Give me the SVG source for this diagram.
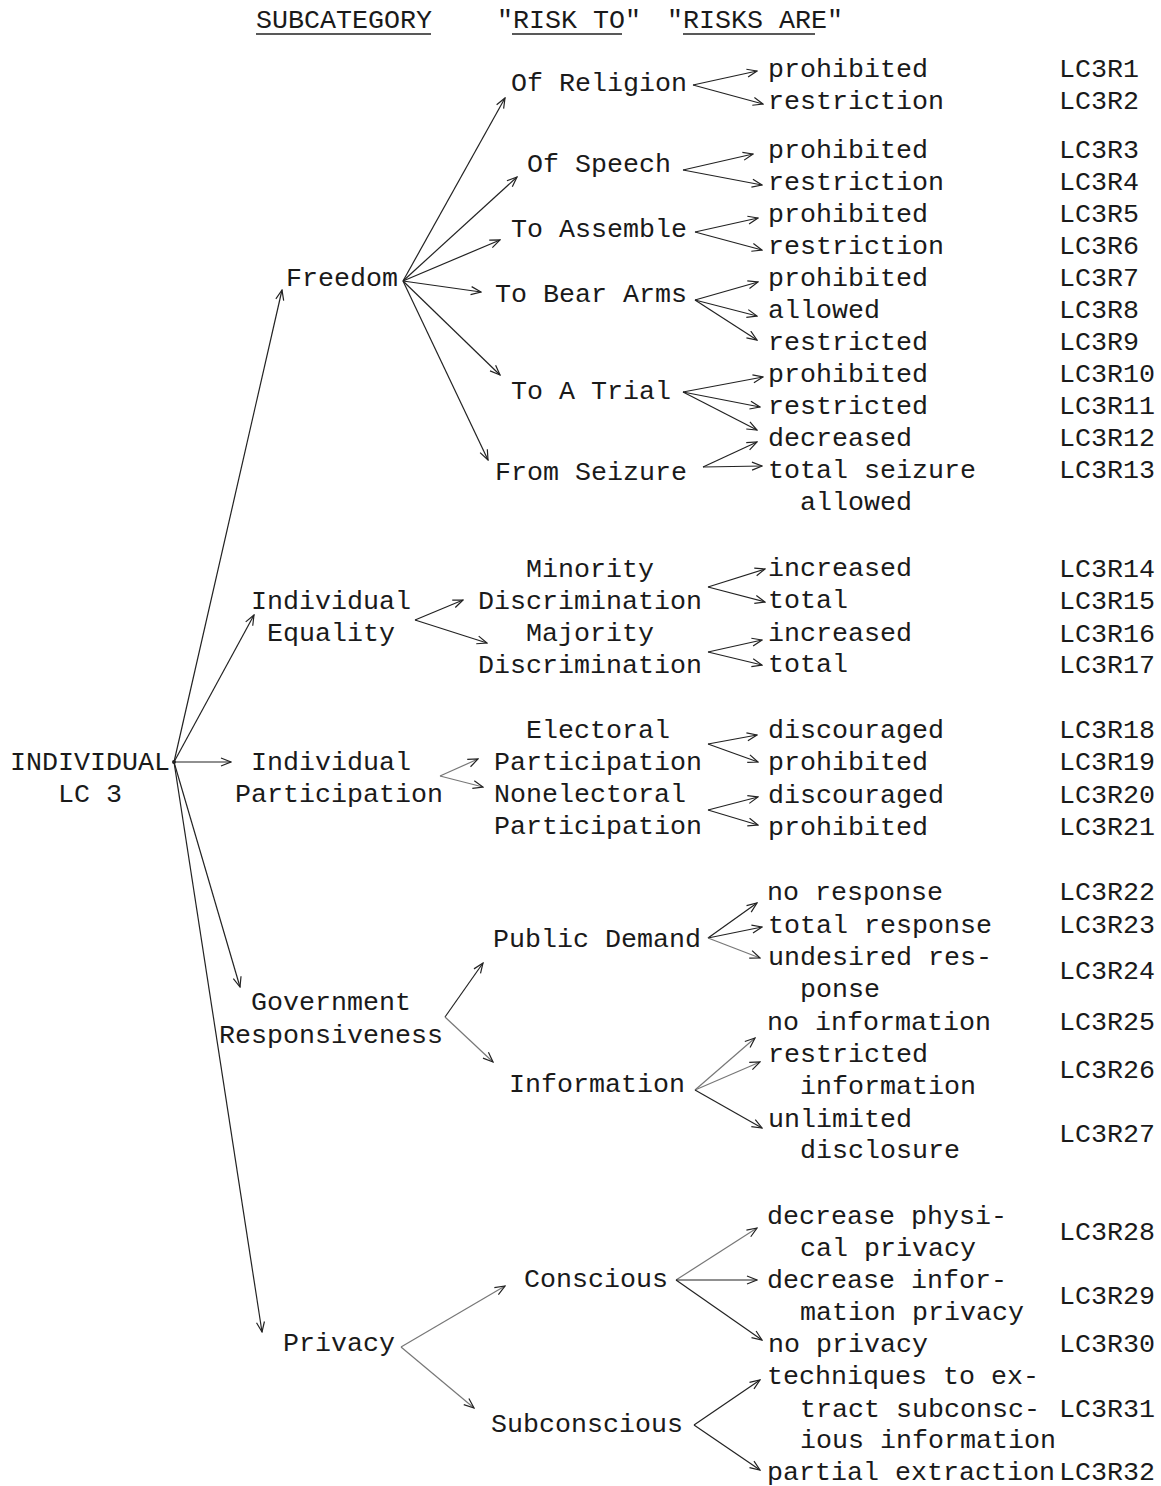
<svg xmlns="http://www.w3.org/2000/svg" width="1161" height="1486" viewBox="0 0 1161 1486">
  <style>
    text { font-family: "Liberation Mono", "DejaVu Sans Mono", monospace; font-size: 26.66px; fill: #1a1a1a; }
    .edge { stroke: #222; stroke-width: 1.2; fill: none; marker-end: url(#vhead); }
    .faint { stroke: #777; }
    .rule { stroke: #222; stroke-width: 1.6; }
  </style>
  <defs>
    <marker id="vhead" markerUnits="userSpaceOnUse" markerWidth="12" markerHeight="10" viewBox="0 0 12 10" refX="11" refY="5" orient="auto">
      <path d="M1,1 L11,5 L1,9" fill="none" stroke="#222" stroke-width="1.2"/>
    </marker>
  </defs>
  <rect width="1161" height="1486" fill="#ffffff"/>

  <!-- column headings -->
  <g id="headings">
    <text x="256" y="28">SUBCATEGORY</text>
    <line class="rule" x1="256" y1="34" x2="431" y2="34"/>
    <text x="497" y="28">"RISK TO"</text>
    <line class="rule" x1="512" y1="34" x2="622" y2="34"/>
    <text x="667" y="28">"RISKS ARE"</text>
    <line class="rule" x1="683" y1="34" x2="815" y2="34"/>
  </g>

  <!-- connectors -->
  <g id="connectors">
    <!-- root -->
    <circle cx="174" cy="762" r="2" fill="#222"/>
    <line class="edge" x1="174" y1="762" x2="282" y2="290"/>
    <line class="edge" x1="174" y1="762" x2="254" y2="615"/>
    <line class="edge" x1="174" y1="762" x2="231" y2="762"/>
    <line class="edge" x1="174" y1="762" x2="240" y2="987"/>
    <line class="edge" x1="174" y1="762" x2="262" y2="1332"/>
    <!-- freedom -->
    <line class="edge" x1="403" y1="281" x2="505" y2="98"/>
    <line class="edge" x1="403" y1="281" x2="517" y2="177"/>
    <line class="edge" x1="403" y1="281" x2="500" y2="240"/>
    <line class="edge" x1="403" y1="281" x2="481" y2="292"/>
    <line class="edge" x1="403" y1="281" x2="500" y2="375"/>
    <line class="edge" x1="403" y1="281" x2="488" y2="460"/>
    <line class="edge" x1="693" y1="85" x2="757" y2="71"/>
    <line class="edge" x1="693" y1="85" x2="763" y2="104"/>
    <line class="edge" x1="683" y1="170" x2="753" y2="154"/>
    <line class="edge" x1="683" y1="170" x2="762" y2="185"/>
    <line class="edge" x1="695" y1="232" x2="758" y2="218"/>
    <line class="edge" x1="695" y1="232" x2="762" y2="250"/>
    <line class="edge" x1="695" y1="300" x2="758" y2="282"/>
    <line class="edge" x1="695" y1="300" x2="757" y2="316"/>
    <line class="edge" x1="695" y1="300" x2="757" y2="340"/>
    <line class="edge" x1="683" y1="392" x2="763" y2="377"/>
    <line class="edge" x1="683" y1="392" x2="760" y2="407"/>
    <line class="edge" x1="683" y1="392" x2="757" y2="430"/>
    <line class="edge" x1="703" y1="467" x2="757" y2="442"/>
    <line class="edge" x1="703" y1="467" x2="762" y2="466"/>
    <!-- individual equality -->
    <line class="edge" x1="415" y1="620" x2="463" y2="600"/>
    <line class="edge" x1="415" y1="620" x2="487" y2="643"/>
    <line class="edge" x1="708" y1="587" x2="765" y2="569"/>
    <line class="edge" x1="708" y1="587" x2="765" y2="602"/>
    <line class="edge" x1="708" y1="652" x2="762" y2="640"/>
    <line class="edge" x1="708" y1="652" x2="762" y2="665"/>
    <!-- individual participation -->
    <line class="edge faint" x1="440" y1="776" x2="478" y2="759"/>
    <line class="edge faint" x1="440" y1="776" x2="483" y2="787"/>
    <line class="edge" x1="708" y1="744" x2="757" y2="735"/>
    <line class="edge" x1="708" y1="744" x2="758" y2="762"/>
    <line class="edge" x1="708" y1="810" x2="758" y2="797"/>
    <line class="edge" x1="708" y1="810" x2="758" y2="825"/>
    <!-- government responsiveness -->
    <line class="edge" x1="445" y1="1017" x2="483" y2="963"/>
    <line class="edge faint" x1="445" y1="1017" x2="493" y2="1062"/>
    <line class="edge" x1="708" y1="938" x2="757" y2="903"/>
    <line class="edge" x1="708" y1="938" x2="762" y2="927"/>
    <line class="edge faint" x1="708" y1="938" x2="760" y2="958"/>
    <line class="edge faint" x1="695" y1="1090" x2="755" y2="1038"/>
    <line class="edge faint" x1="695" y1="1090" x2="760" y2="1062"/>
    <line class="edge" x1="695" y1="1090" x2="762" y2="1128"/>
    <!-- privacy -->
    <line class="edge faint" x1="401" y1="1347" x2="505" y2="1286"/>
    <line class="edge faint" x1="401" y1="1347" x2="474" y2="1408"/>
    <line class="edge faint" x1="676" y1="1280" x2="757" y2="1228"/>
    <line class="edge" x1="676" y1="1280" x2="757" y2="1280"/>
    <line class="edge" x1="676" y1="1280" x2="762" y2="1340"/>
    <line class="edge" x1="694" y1="1425" x2="760" y2="1380"/>
    <line class="edge" x1="694" y1="1425" x2="760" y2="1470"/>
  </g>

  <!-- root -->
  <g id="n-root"><text x="10" y="770">INDIVIDUAL</text><text x="58" y="802">LC 3</text></g>

  <!-- subcategories -->
  <g id="n-freedom"><text x="286" y="286">Freedom</text></g>
  <g id="n-equality"><text x="251" y="609">Individual</text><text x="267" y="641">Equality</text></g>
  <g id="n-participation"><text x="251" y="770">Individual</text><text x="235" y="802">Participation</text></g>
  <g id="n-government"><text x="251" y="1010">Government</text><text x="219" y="1043">Responsiveness</text></g>
  <g id="n-privacy"><text x="283" y="1351">Privacy</text></g>

  <!-- risk to -->
  <g id="n-religion"><text x="511" y="91">Of Religion</text></g>
  <g id="n-speech"><text x="527" y="172">Of Speech</text></g>
  <g id="n-assemble"><text x="511" y="237">To Assemble</text></g>
  <g id="n-arms"><text x="495" y="302">To Bear Arms</text></g>
  <g id="n-trial"><text x="511" y="399">To A Trial</text></g>
  <g id="n-seizure"><text x="495" y="480">From Seizure</text></g>
  <g id="n-minority"><text x="526" y="577">Minority</text><text x="478" y="609">Discrimination</text></g>
  <g id="n-majority"><text x="526" y="641">Majority</text><text x="478" y="673">Discrimination</text></g>
  <g id="n-electoral"><text x="526" y="738">Electoral</text><text x="494" y="770">Participation</text></g>
  <g id="n-nonelectoral"><text x="494" y="802">Nonelectoral</text><text x="494" y="834">Participation</text></g>
  <g id="n-demand"><text x="493" y="947">Public Demand</text></g>
  <g id="n-information"><text x="509" y="1092">Information</text></g>
  <g id="n-conscious"><text x="524" y="1287">Conscious</text></g>
  <g id="n-subconscious"><text x="491" y="1432">Subconscious</text></g>

  <!-- risks are, with codes -->
  <g id="r1"><text x="768" y="77">prohibited</text><text x="1059" y="77">LC3R1</text></g>
  <g id="r2"><text x="768" y="109">restriction</text><text x="1059" y="109">LC3R2</text></g>
  <g id="r3"><text x="768" y="158">prohibited</text><text x="1059" y="158">LC3R3</text></g>
  <g id="r4"><text x="768" y="190">restriction</text><text x="1059" y="190">LC3R4</text></g>
  <g id="r5"><text x="768" y="222">prohibited</text><text x="1059" y="222">LC3R5</text></g>
  <g id="r6"><text x="768" y="254">restriction</text><text x="1059" y="254">LC3R6</text></g>
  <g id="r7"><text x="768" y="286">prohibited</text><text x="1059" y="286">LC3R7</text></g>
  <g id="r8"><text x="768" y="318">allowed</text><text x="1059" y="318">LC3R8</text></g>
  <g id="r9"><text x="768" y="350">restricted</text><text x="1059" y="350">LC3R9</text></g>
  <g id="r10"><text x="768" y="382">prohibited</text><text x="1059" y="382">LC3R10</text></g>
  <g id="r11"><text x="768" y="414">restricted</text><text x="1059" y="414">LC3R11</text></g>
  <g id="r12"><text x="768" y="446">decreased</text><text x="1059" y="446">LC3R12</text></g>
  <g id="r13"><text x="768" y="478">total seizure</text><text x="800" y="510">allowed</text><text x="1059" y="478">LC3R13</text></g>
  <g id="r14"><text x="768" y="576">increased</text><text x="1059" y="577">LC3R14</text></g>
  <g id="r15"><text x="768" y="608">total</text><text x="1059" y="609">LC3R15</text></g>
  <g id="r16"><text x="768" y="641">increased</text><text x="1059" y="642">LC3R16</text></g>
  <g id="r17"><text x="768" y="672">total</text><text x="1059" y="673">LC3R17</text></g>
  <g id="r18"><text x="768" y="738">discouraged</text><text x="1059" y="738">LC3R18</text></g>
  <g id="r19"><text x="768" y="770">prohibited</text><text x="1059" y="770">LC3R19</text></g>
  <g id="r20"><text x="768" y="803">discouraged</text><text x="1059" y="803">LC3R20</text></g>
  <g id="r21"><text x="768" y="835">prohibited</text><text x="1059" y="835">LC3R21</text></g>
  <g id="r22"><text x="767" y="900">no response</text><text x="1059" y="900">LC3R22</text></g>
  <g id="r23"><text x="768" y="933">total response</text><text x="1059" y="933">LC3R23</text></g>
  <g id="r24"><text x="768" y="965">undesired res-</text><text x="800" y="997">ponse</text><text x="1059" y="979">LC3R24</text></g>
  <g id="r25"><text x="767" y="1030">no information</text><text x="1059" y="1030">LC3R25</text></g>
  <g id="r26"><text x="768" y="1062">restricted</text><text x="800" y="1094">information</text><text x="1059" y="1078">LC3R26</text></g>
  <g id="r27"><text x="768" y="1127">unlimited</text><text x="800" y="1158">disclosure</text><text x="1059" y="1142">LC3R27</text></g>
  <g id="r28"><text x="767" y="1224">decrease physi-</text><text x="800" y="1256">cal privacy</text><text x="1059" y="1240">LC3R28</text></g>
  <g id="r29"><text x="767" y="1288">decrease infor-</text><text x="800" y="1320">mation privacy</text><text x="1059" y="1304">LC3R29</text></g>
  <g id="r30"><text x="768" y="1352">no privacy</text><text x="1059" y="1352">LC3R30</text></g>
  <g id="r31"><text x="767" y="1384">techniques to ex-</text><text x="800" y="1417">tract subconsc-</text><text x="800" y="1448">ious information</text><text x="1059" y="1417">LC3R31</text></g>
  <g id="r32"><text x="767" y="1480">partial extraction</text><text x="1059" y="1480">LC3R32</text></g>
</svg>
